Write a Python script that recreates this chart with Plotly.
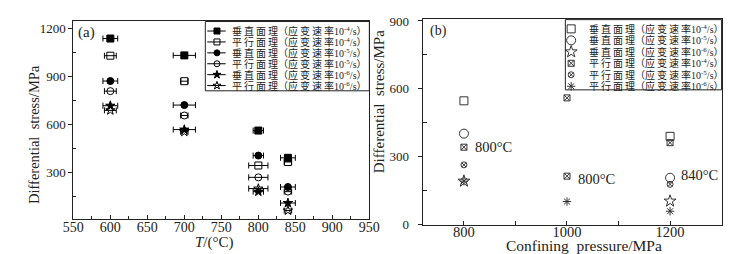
import plotly.graph_objects as go

W, H = 744, 254
FONT = "Liberation Serif, Times New Roman, Noto Sans CJK SC, serif"
LFONT = "Liberation Serif, Noto Sans CJK SC, serif"
INK = "#222222"

# ---------------- Panel (a) data ----------------
temps_a = [600, 700, 800, 840]
labels_a = [
    "垂直面理（应变速率10<sup>-4</sup>/s）",
    "平行面理（应变速率10<sup>-4</sup>/s）",
    "垂直面理（应变速率10<sup>-5</sup>/s）",
    "平行面理（应变速率10<sup>-5</sup>/s）",
    "垂直面理（应变速率10<sup>-6</sup>/s）",
    "平行面理（应变速率10<sup>-6</sup>/s）",
]
perp_1e4 = [1135, 1030, 561, 391]
para_1e4 = [1028, 869, 343, 365]
perp_1e5 = [870, 720, 405, 209]
para_1e5 = [807, 655, 269, 180]
perp_1e6 = [716, 567, 180, 109]
para_1e6 = [687, 553, 199, 62]
err_perp = [10, 15, 7, 10]
err_para_4 = [8, 5, 13, 5]
err_para_5 = [8, 5, 13, 5]
err_para_6 = [8, 5, 13, 5]

series_a = [perp_1e4, para_1e4, perp_1e5, para_1e5, perp_1e6, para_1e6]
errs_a = [err_perp, err_para_4, err_perp, err_para_5, err_perp, err_para_6]
symbols_a = ["square", "square-open", "circle", "circle-open", "star", "star-open"]

# ---------------- Panel (b) data ----------------
labels_b = [
    "垂直面理（应变速率10<sup>-4</sup>/s）",
    "垂直面理（应变速率10<sup>-5</sup>/s）",
    "垂直面理（应变速率10<sup>-6</sup>/s）",
    "平行面理（应变速率10<sup>-4</sup>/s）",
    "平行面理（应变速率10<sup>-5</sup>/s）",
    "平行面理（应变速率10<sup>-6</sup>/s）",
]
b_perp_1e4_x = [800, 1200]
b_perp_1e4_y = [547, 390]
b_perp_1e5_x = [800, 1200]
b_perp_1e5_y = [402, 207]
b_perp_1e6_x = [800, 1200]
b_perp_1e6_y = [192, 104]
b_para_1e4_x = [800, 1000, 1000, 1200]
b_para_1e4_y = [342, 560, 214, 362]
b_para_1e5_x = [800, 1200]
b_para_1e5_y = [264, 178]
b_para_1e6_x = [800, 1000, 1200]
b_para_1e6_y = [192, 102, 59]
series_b = [
    (b_perp_1e4_x, b_perp_1e4_y), (b_perp_1e5_x, b_perp_1e5_y), (b_perp_1e6_x, b_perp_1e6_y),
    (b_para_1e4_x, b_para_1e4_y), (b_para_1e5_x, b_para_1e5_y), (b_para_1e6_x, b_para_1e6_y),
]
symbols_b = ["square-open", "circle-open", "star-open", "square-x-open", "circle-x-open", "asterisk-open"]
sizes_b = [8, 9, 9, 6, 6, 7]
note_x = [800, 1000, 1200]
note_y = [342, 200, 221]
note_text = ["800°C", "800°C", "840°C"]

BRACKETS = "（）"


def spaced(label):
    """Insert thin spaces between CJK ideographs to mimic the letter-spaced legend text."""
    out = []
    for ch in label:
        if (out and ord(ch) > 0x2E80 and ord(out[-1][-1]) > 0x2E80
                and ch not in BRACKETS and out[-1] not in BRACKETS):
            out.append("\u2009")
        out.append(ch)
    return "".join(out)


fig = go.Figure()
PX = dict(xaxis="x3", yaxis="y3")

# legend geometry (pixels)
LA = dict(x0=192, x1=361, y0=9, y1=82, row0=19, dy=11.5, mk=204, l0=194, l1=213, tx=217)
LB = dict(x0=563, x1=724, y0=7, y1=81, row0=16.7, dy=12.1, mk=569, tx=585)
LSIZE = 10

annotations = []

for i, (ys, es, sym, lab) in enumerate(zip(series_a, errs_a, symbols_a, labels_a)):
    fig.add_trace(go.Scatter(
        x=temps_a, y=ys, mode="markers",
        marker=dict(symbol=sym, size=7, color="black", line=dict(color="black", width=1)),
        error_x=dict(type="data", array=es, color="black", thickness=1, width=3),
        showlegend=False, xaxis="x", yaxis="y",
    ))
    ry = LA["row0"] + i * LA["dy"]
    fig.add_trace(go.Scatter(
        x=[LA["l0"], LA["mk"], LA["l1"]], y=[ry, ry, ry], mode="lines",
        line=dict(color="black", width=1), showlegend=False, hoverinfo="skip", **PX,
    ))
    fig.add_trace(go.Scatter(
        x=[LA["mk"]], y=[ry], mode="markers",
        marker=dict(symbol=sym, size=6, color="black", line=dict(color="black", width=1)),
        showlegend=False, hoverinfo="skip", **PX,
    ))
    annotations.append(dict(text=spaced(lab), x=LA["tx"], y=ry, xref="x3", yref="y3", xanchor="left",
                            yanchor="middle", showarrow=False, font=dict(family=LFONT, size=LSIZE, color=INK)))

for i, ((xs, ys), sym, sz, lab) in enumerate(zip(series_b, symbols_b, sizes_b, labels_b)):
    fig.add_trace(go.Scatter(
        x=xs, y=ys, mode="markers",
        marker=dict(symbol=sym, size=sz, color="#333333", line=dict(color="#333333", width=1)),
        showlegend=False, xaxis="x2", yaxis="y2",
    ))
    ry = LB["row0"] + i * LB["dy"]
    fig.add_trace(go.Scatter(
        x=[LB["mk"]], y=[ry], mode="markers",
        marker=dict(symbol=sym, size=sz, color="#333333", line=dict(color="#333333", width=1)),
        showlegend=False, hoverinfo="skip", **PX,
    ))
    annotations.append(dict(text=spaced(lab), x=LB["tx"], y=ry, xref="x3", yref="y3", xanchor="left",
                            yanchor="middle", showarrow=False, font=dict(family=LFONT, size=LSIZE, color=INK)))

shapes = [
    dict(type="rect", xref="x3", yref="y3", x0=L["x0"], x1=L["x1"], y0=L["y0"], y1=L["y1"],
         line=dict(color=INK, width=1), fillcolor="rgba(0,0,0,0)", layer="above")
    for L in (LA, LB)
]

axis_common = dict(
    showline=True, linecolor=INK, linewidth=1, mirror=True, showgrid=False, zeroline=False,
    ticklen=4, tickcolor=INK,
)
TFONT = dict(family=FONT, size=15, color=INK)

annotations += [
    dict(text="(a)", xref="paper", yref="paper", x=59 / W, y=1 - 9 / H, xanchor="left", yanchor="top",
         showarrow=False, font=dict(family=FONT, size=15, color=INK)),
    dict(text="(b)", xref="paper", yref="paper", x=421 / W, y=1 - 8 / H, xanchor="left", yanchor="top",
         showarrow=False, font=dict(family=FONT, size=14, color=INK)),
    dict(text="<i>T</i>/(°C)", xref="paper", yref="paper", x=201 / W, y=1 - 242 / H, xanchor="center",
         yanchor="middle", showarrow=False, font=TFONT),
    dict(text="Confining  pressure/MPa", xref="paper", yref="paper", x=582 / W, y=1 - 245 / H,
         xanchor="center", yanchor="middle", showarrow=False, font=dict(family=FONT, size=15.5, color=INK)),
    dict(text="Differential  stress/MPa", xref="paper", yref="paper", x=16 / W, y=1 - 128 / H,
         xanchor="center", yanchor="middle", textangle=-90, showarrow=False,
         font=dict(family=FONT, size=14.5, color=INK)),
    dict(text="Differential  stress/MPa", xref="paper", yref="paper", x=371 / W, y=1 - 94 / H,
         xanchor="center", yanchor="middle", textangle=-90, showarrow=False,
         font=dict(family=FONT, size=15, color=INK)),
] + [
    dict(text=t, x=x, y=y, xref="x2", yref="y2", xanchor="left", yanchor="middle", xshift=9, showarrow=False,
         font=dict(family=FONT, size=14.5, color=INK))
    for x, y, t in zip(note_x, note_y, note_text)
]

fig.update_layout(
    width=W, height=H, margin=dict(l=0, r=0, t=0, b=0),
    paper_bgcolor="white", plot_bgcolor="rgba(0,0,0,0)",
    font=dict(family=FONT, color=INK), showlegend=False,
    xaxis=dict(domain=[56 / W, 361 / W], range=[550, 950], tickvals=[550, 600, 650, 700, 750, 800, 850, 900, 950],
               ticks="inside", minor=dict(ticks="inside", dtick=25, ticklen=3, tickcolor=INK),
               tickfont=dict(family=FONT, size=14, color=INK),
               ticklabelstandoff=-5, anchor="y", **axis_common),
    yaxis=dict(domain=[1 - 217 / H, 1 - 8 / H], range=[10, 1247], tickvals=[300, 600, 900, 1200],
               ticks="outside", minor=dict(ticks="inside", tickvals=[150, 450, 750, 1050], ticklen=3, tickcolor=INK),
               tickfont=dict(family=FONT, size=13, color=INK), anchor="x", **axis_common),
    xaxis2=dict(domain=[416 / W, 724 / W], range=[720, 1300], tickvals=[800, 1000, 1200],
                ticks="inside", minor=dict(ticks="inside", tickvals=[900, 1100], ticklen=4, tickcolor=INK),
                tickfont=dict(family=FONT, size=14.5, color=INK),
                ticklabelstandoff=-6, anchor="y2", **axis_common),
    yaxis2=dict(domain=[1 - 223 / H, 1 - 6 / H], range=[0, 910], tickvals=[0, 300, 600, 900],
                ticks="outside", minor=dict(ticks="inside", tickvals=[150, 450, 750], ticklen=4, tickcolor=INK),
                tickfont=dict(family=FONT, size=13, color=INK), ticklabelstandoff=6,
                anchor="x2", **axis_common),
    xaxis3=dict(domain=[0, 1], range=[0, W], visible=False, anchor="y3", fixedrange=True),
    yaxis3=dict(domain=[0, 1], range=[H, 0], visible=False, anchor="x3", fixedrange=True),
    shapes=shapes,
    annotations=annotations,
)

fig.write_html("out.html")
